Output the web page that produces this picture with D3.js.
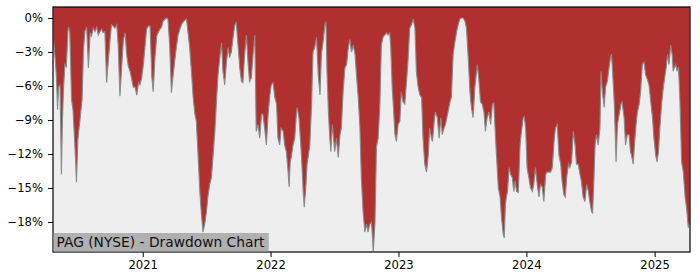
<!DOCTYPE html>
<meta charset="utf-8">
<script src="https://d3js.org/d3.v7.min.js"></script>
<style>
body { margin: 0; background: #fff; }
text { font-family: "DejaVu Sans", sans-serif; }
</style>
<div id="chart"></div>
<script>
// drawdown samples (date, % below previous peak)
var dates = [
"2020-04-21","2020-04-26","2020-04-30","2020-05-03","2020-05-06","2020-05-10","2020-05-14","2020-05-17","2020-05-20","2020-05-24","2020-05-28",
"2020-06-02","2020-06-04","2020-06-07","2020-06-12","2020-06-16","2020-06-22","2020-06-26","2020-06-30",
"2020-07-06","2020-07-12","2020-07-16","2020-07-20","2020-07-25","2020-07-30",
"2020-08-04","2020-08-08","2020-08-13","2020-08-18","2020-08-23","2020-08-27",
"2020-09-01","2020-09-06","2020-09-10","2020-09-15","2020-09-20","2020-09-25","2020-09-30",
"2020-10-04","2020-10-09","2020-10-14","2020-10-19","2020-10-23","2020-10-28",
"2020-11-02","2020-11-07","2020-11-12","2020-11-16","2020-11-21","2020-11-26","2020-11-30",
"2020-12-05","2020-12-10","2020-12-15","2020-12-20","2020-12-24","2020-12-29",
"2021-01-03","2021-01-08","2021-01-12","2021-01-17","2021-01-22","2021-01-27","2021-01-31",
"2021-02-05","2021-02-10","2021-02-14","2021-02-19","2021-02-24","2021-02-28",
"2021-03-06","2021-03-10","2021-03-14","2021-03-19","2021-03-24","2021-03-27",
"2021-04-02","2021-04-07","2021-04-12","2021-04-18","2021-04-23",
"2021-05-01","2021-05-06","2021-05-10","2021-05-15","2021-05-20","2021-05-25","2021-05-30",
"2021-06-03","2021-06-08","2021-06-13","2021-06-17","2021-06-22","2021-06-27",
"2021-07-02","2021-07-06","2021-07-11","2021-07-16","2021-07-21","2021-07-26","2021-07-30",
"2021-08-04","2021-08-09","2021-08-14","2021-08-18","2021-08-23","2021-08-28",
"2021-09-02","2021-09-06","2021-09-11","2021-09-16","2021-09-21","2021-09-25","2021-09-30",
"2021-10-05","2021-10-10","2021-10-14","2021-10-19","2021-10-24","2021-10-29",
"2021-11-02","2021-11-07","2021-11-12","2021-11-17","2021-11-21","2021-11-26",
"2021-12-01","2021-12-06","2021-12-10","2021-12-15","2021-12-20","2021-12-25","2021-12-30",
"2022-01-03","2022-01-08","2022-01-13","2022-01-18","2022-01-22","2022-01-27","2022-01-31",
"2022-02-06","2022-02-10","2022-02-15","2022-02-20","2022-02-23","2022-02-26",
"2022-03-01","2022-03-06","2022-03-11","2022-03-16","2022-03-18","2022-03-23","2022-03-27","2022-03-30",
"2022-04-04","2022-04-07","2022-04-12","2022-04-15","2022-04-18","2022-04-23","2022-04-28",
"2022-05-02","2022-05-07","2022-05-12","2022-05-17","2022-05-22","2022-05-26","2022-05-31",
"2022-06-05","2022-06-08","2022-06-11","2022-06-15","2022-06-19","2022-06-22","2022-06-26","2022-06-28",
"2022-07-03","2022-07-08","2022-07-13","2022-07-18","2022-07-22","2022-07-27",
"2022-08-01","2022-08-06","2022-08-10","2022-08-15","2022-08-20","2022-08-25","2022-08-30",
"2022-09-03","2022-09-08","2022-09-13","2022-09-17","2022-09-22","2022-09-27",
"2022-10-02","2022-10-06","2022-10-11","2022-10-16","2022-10-21","2022-10-26","2022-10-30",
"2022-11-04","2022-11-09","2022-11-13","2022-11-18","2022-11-23","2022-11-28",
"2022-12-02","2022-12-07","2022-12-10","2022-12-14","2022-12-17","2022-12-22","2022-12-26","2022-12-31",
"2023-01-05","2023-01-09","2023-01-14","2023-01-19","2023-01-24","2023-01-28",
"2023-02-02","2023-02-07","2023-02-12","2023-02-17","2023-02-21","2023-02-26",
"2023-03-03","2023-03-08","2023-03-12","2023-03-17","2023-03-22","2023-03-27","2023-03-31",
"2023-04-05","2023-04-08","2023-04-13","2023-04-16","2023-04-22","2023-04-27",
"2023-05-02","2023-05-06","2023-05-11","2023-05-15","2023-05-21","2023-05-28",
"2023-06-01","2023-06-06","2023-06-11","2023-06-16","2023-06-20","2023-06-25","2023-06-30",
"2023-07-05","2023-07-10","2023-07-14","2023-07-19","2023-07-24","2023-07-28",
"2023-08-02","2023-08-07","2023-08-12","2023-08-14","2023-08-18","2023-08-23","2023-08-28",
"2023-09-02","2023-09-06","2023-09-11","2023-09-16","2023-09-21","2023-09-26","2023-09-30",
"2023-10-05","2023-10-08","2023-10-13","2023-10-18","2023-10-22","2023-10-27","2023-10-30",
"2023-11-02","2023-11-05","2023-11-08","2023-11-13","2023-11-17","2023-11-22","2023-11-26","2023-11-30",
"2023-12-04","2023-12-09","2023-12-14","2023-12-18","2023-12-23","2023-12-26","2023-12-30",
"2024-01-03","2024-01-08","2024-01-13","2024-01-18","2024-01-22","2024-01-27",
"2024-02-01","2024-02-06","2024-02-10","2024-02-15","2024-02-20","2024-02-25","2024-02-29",
"2024-03-05","2024-03-10","2024-03-15","2024-03-20","2024-03-24","2024-03-29",
"2024-04-03","2024-04-08","2024-04-12","2024-04-17","2024-04-21","2024-04-25","2024-04-30",
"2024-05-04","2024-05-09","2024-05-14","2024-05-19","2024-05-23","2024-05-28",
"2024-06-02","2024-06-06","2024-06-11","2024-06-16","2024-06-21","2024-06-26","2024-06-30",
"2024-07-05","2024-07-08","2024-07-12","2024-07-15","2024-07-19","2024-07-24","2024-07-29",
"2024-08-01","2024-08-05","2024-08-10","2024-08-14","2024-08-19","2024-08-24","2024-08-28","2024-08-31",
"2024-09-03","2024-09-08","2024-09-13","2024-09-17","2024-09-22","2024-09-27","2024-09-30",
"2024-10-06","2024-10-10","2024-10-15","2024-10-20","2024-10-24","2024-10-27",
"2024-11-01","2024-11-04","2024-11-09","2024-11-13","2024-11-18","2024-11-22","2024-11-27",
"2024-12-02","2024-12-06","2024-12-11","2024-12-16","2024-12-21","2024-12-26","2024-12-30",
"2025-01-04","2025-01-08","2025-01-12","2025-01-16","2025-01-21","2025-01-26","2025-01-31",
"2025-02-03","2025-02-07","2025-02-11","2025-02-16","2025-02-20","2025-02-23","2025-02-26",
"2025-03-02","2025-03-06","2025-03-10","2025-03-14","2025-03-19","2025-03-24","2025-03-29",
"2025-04-02","2025-04-07","2025-04-11"
];

var drawdown = [
-1.8,-3.5,-5.3,-8.1,-6.1,-5.9,-13.8,-9.0,-6.3,-4.1,-4.3,
-1.0,-0.8,-1.3,-7.2,-8.1,-11.6,-14.5,-10.7,
-9.0,-7.2,-2.8,-1.2,-0.8,-4.4,
-1.3,-1.6,-0.9,-1.2,-0.8,-1.5,
-1.2,-1.0,-1.3,-1.2,-5.7,-3.7,-1.9,
-0.6,-0.7,-0.9,-0.6,-2.4,-6.9,
-4.3,-1.9,-1.3,-3.2,-4.3,-4.7,-5.3,
-6.1,-6.1,-6.8,-5.7,-5.9,-5.3,
-4.1,-2.4,-1.0,-0.7,-0.7,-5.2,-6.5,
-3.5,-1.6,-1.3,-1.0,-0.8,-0.3,
-0.1,0,-0.1,-2.4,-6.6,-5.6,
-3.9,-2.6,-1.5,-0.9,-0.5,
-0.2,-0.1,-1.2,-2.6,-4.7,-7.0,-8.5,
-9.1,-12.1,-15.3,-17.1,-18.9,-18.2,
-17.1,-15.8,-14.7,-14.1,-12.1,-10.0,-7.6,
-5.0,-3.5,-2.2,-4.7,-5.9,-3.9,
-2.6,-3.5,-3.0,-1.7,-0.6,-0.4,-2.4,
-4.4,-5.6,-5.7,-3.2,-1.5,-4.1,
-5.6,-5.3,-3.2,-1.5,-10.0,-9.4,
-10.6,-8.5,-8.5,-9.7,-11.2,-8.5,-6.8,
-5.9,-5.7,-7.0,-7.6,-10.6,-11.2,-9.7,
-10.0,-11.2,-11.8,-13.6,-14.9,-12.7,
-12.3,-11.2,-10.6,-8.3,-7.9,-8.8,-10.6,-12.1,
-15.3,-16.7,-14.7,-12.9,-12.3,-11.2,-7.6,
-3.0,-2.6,-1.7,-5.0,-6.8,-3.2,-2.1,
-0.6,-0.3,-4.7,-8.3,-10.6,-11.8,-9.4,-10.0,
-11.8,-10.6,-12.3,-10.3,-9.7,-6.5,
-4.4,-4.1,-2.8,-1.9,-3.0,-2.4,-3.2,
-5.0,-7.0,-9.7,-14.1,-17.1,-18.9,
-18.2,-18.9,-18.2,-18.0,-20.6,-18.0,-11.4,
-10.6,-7.6,-2.4,-1.7,-1.5,-1.3,
-1.5,-1.3,-2.6,-6.1,-7.6,-10.3,-10.9,-9.4,
-9.1,-6.5,-7.4,-7.6,-5.6,-3.9,
-0.9,-0.6,-0.1,-0.9,-4.7,-6.1,
-6.8,-7.0,-10.6,-12.9,-13.6,-12.1,-9.7,
-10.6,-10.9,-9.1,-8.3,-8.8,-10.6,
-8.8,-10.3,-9.7,-9.4,-8.5,-7.4,
-7.0,-3.2,-2.1,-1.2,-0.6,-0.1,0,
0,-0.3,-0.9,-3.5,-6.5,-7.9,
-8.8,-6.1,-4.7,-4.1,-5.3,-7.4,-7.6,
-8.3,-10.0,-8.8,-8.3,-9.4,-7.6,-7.5,
-10.6,-12.3,-15.0,-15.8,-17.6,-19.1,-19.4,
-16.5,-15.8,-15.3,-13.2,-13.8,-14.1,-15.3,-14.4,
-15.3,-15.4,-11.2,-10.0,-8.8,-8.7,-9.7,
-13.2,-14.1,-15.0,-15.3,-14.7,-13.2,
-14.7,-15.8,-14.7,-14.9,-16.2,-13.8,-13.6,
-13.6,-13.6,-13.2,-10.9,-9.7,-9.4,
-12.1,-12.9,-14.4,-15.6,-15.8,-14.1,-12.9,
-13.2,-12.7,-10.0,-11.2,-12.9,-12.9,
-13.8,-14.4,-15.8,-16.2,-14.7,-15.3,-16.2,
-17.1,-17.2,-14.1,-11.2,-10.3,-11.2,-9.7,
-4.7,-6.5,-7.9,-6.1,-5.6,-4.4,-3.5,-3.2,
-4.7,-7.6,-12.7,-9.4,-8.5,-7.6,-7.4,
-8.8,-11.2,-10.3,-10.3,-11.8,-12.1,
-12.9,-11.4,-9.4,-8.3,-7.6,-6.5,-4.1,
-3.9,-5.0,-5.4,-5.9,-7.4,-8.8,-10.6,
-12.1,-12.7,-11.8,-9.7,-7.6,-6.1,-5.0,
-4.4,-3.2,-4.1,-2.4,-3.2,-4.7,-4.4,
-4.1,-4.7,-4.3,-7.0,-12.7,-13.6,-15.8,
-16.7,-18.5,-18.0
];

var yTicks = [0, -3, -6, -9, -12, -15, -18];
var yTickLabels = ["0%", "\u22123%", "\u22126%", "\u22129%", "\u221212%", "\u221215%", "\u221218%"];
var xTickLabels = ["2021", "2022", "2023", "2024", "2025"];
var xRange = ["2020-04-20", "2025-04-12"];
var yRange = [-20.65, 0.97];
var title = "PAG (NYSE) - Drawdown Chart";

var margin = {top: 7, right: 10, bottom: 28, left: 53},
    width = 700 - margin.left - margin.right,
    height = 280 - margin.top - margin.bottom;

var parse = d3.timeParse("%Y-%m-%d");
var data = dates.map(function(d, i) { return {date: parse(d), value: drawdown[i]}; });

var svg = d3.select("#chart")
  .append("svg")
    .attr("width", 700)
    .attr("height", 280)
  .append("g")
    .attr("transform", "translate(" + margin.left + "," + margin.top + ")");

var x = d3.scaleTime()
  .domain(xRange.map(parse))
  .range([0, width]);

var y = d3.scaleLinear()
  .domain(yRange)
  .range([height, 0]);

svg.append("clipPath").attr("id", "plotclip")
  .append("rect").attr("width", width).attr("height", height);

// light background for the area below the drawdown line
svg.append("rect")
  .attr("width", width)
  .attr("height", height)
  .attr("fill", "#eeeeee");

var plot = svg.append("g").attr("clip-path", "url(#plotclip)");

// red fill from the top of the axes down to the drawdown
plot.append("path")
  .datum(data)
  .attr("fill", "#b03030")
  .attr("d", d3.area()
    .x(function(d) { return x(d.date); })
    .y0(0)
    .y1(function(d) { return y(d.value); }));

plot.append("path")
  .datum(data)
  .attr("fill", "none")
  .attr("stroke", "#8a8a8a")
  .attr("stroke-width", 1.1)
  .attr("d", d3.line()
    .x(function(d) { return x(d.date); })
    .y(function(d) { return y(d.value); }));

// axes
var xAxis = svg.append("g")
  .attr("transform", "translate(0," + height + ")")
  .call(d3.axisBottom(x)
    .tickValues(xTickLabels.map(function(t) { return parse(t + "-01-01"); }))
    .tickFormat(function(d, i) { return xTickLabels[i]; })
    .tickSize(5)
    .tickPadding(4)
    .tickSizeOuter(0));

var yAxis = svg.append("g")
  .call(d3.axisLeft(y)
    .tickValues(yTicks)
    .tickFormat(function(d, i) { return yTickLabels[i]; })
    .tickSize(5)
    .tickPadding(5)
    .tickSizeOuter(0));

svg.selectAll(".tick text")
  .attr("font-family", "DejaVu Sans")
  .attr("font-size", "11.6px")
  .attr("fill", "#000");
svg.selectAll(".domain").remove();

// frame
svg.append("rect")
  .attr("width", width)
  .attr("height", height)
  .attr("fill", "none")
  .attr("stroke", "#000")
  .attr("stroke-width", 1.2);

// label box
var label = svg.append("g");
var lt = label.append("text")
  .attr("x", 3.5)
  .attr("y", height - 5.5)
  .attr("font-family", "DejaVu Sans")
  .attr("font-size", "13.8px")
  .attr("fill", "#111")
  .text(title);
var bb = lt.node().getBBox();
label.insert("rect", "text")
  .attr("x", 0.6)
  .attr("y", height - 19)
  .attr("width", bb.width + 6.5)
  .attr("height", 18.4)
  .attr("fill", "#b0b0b0");
</script>
